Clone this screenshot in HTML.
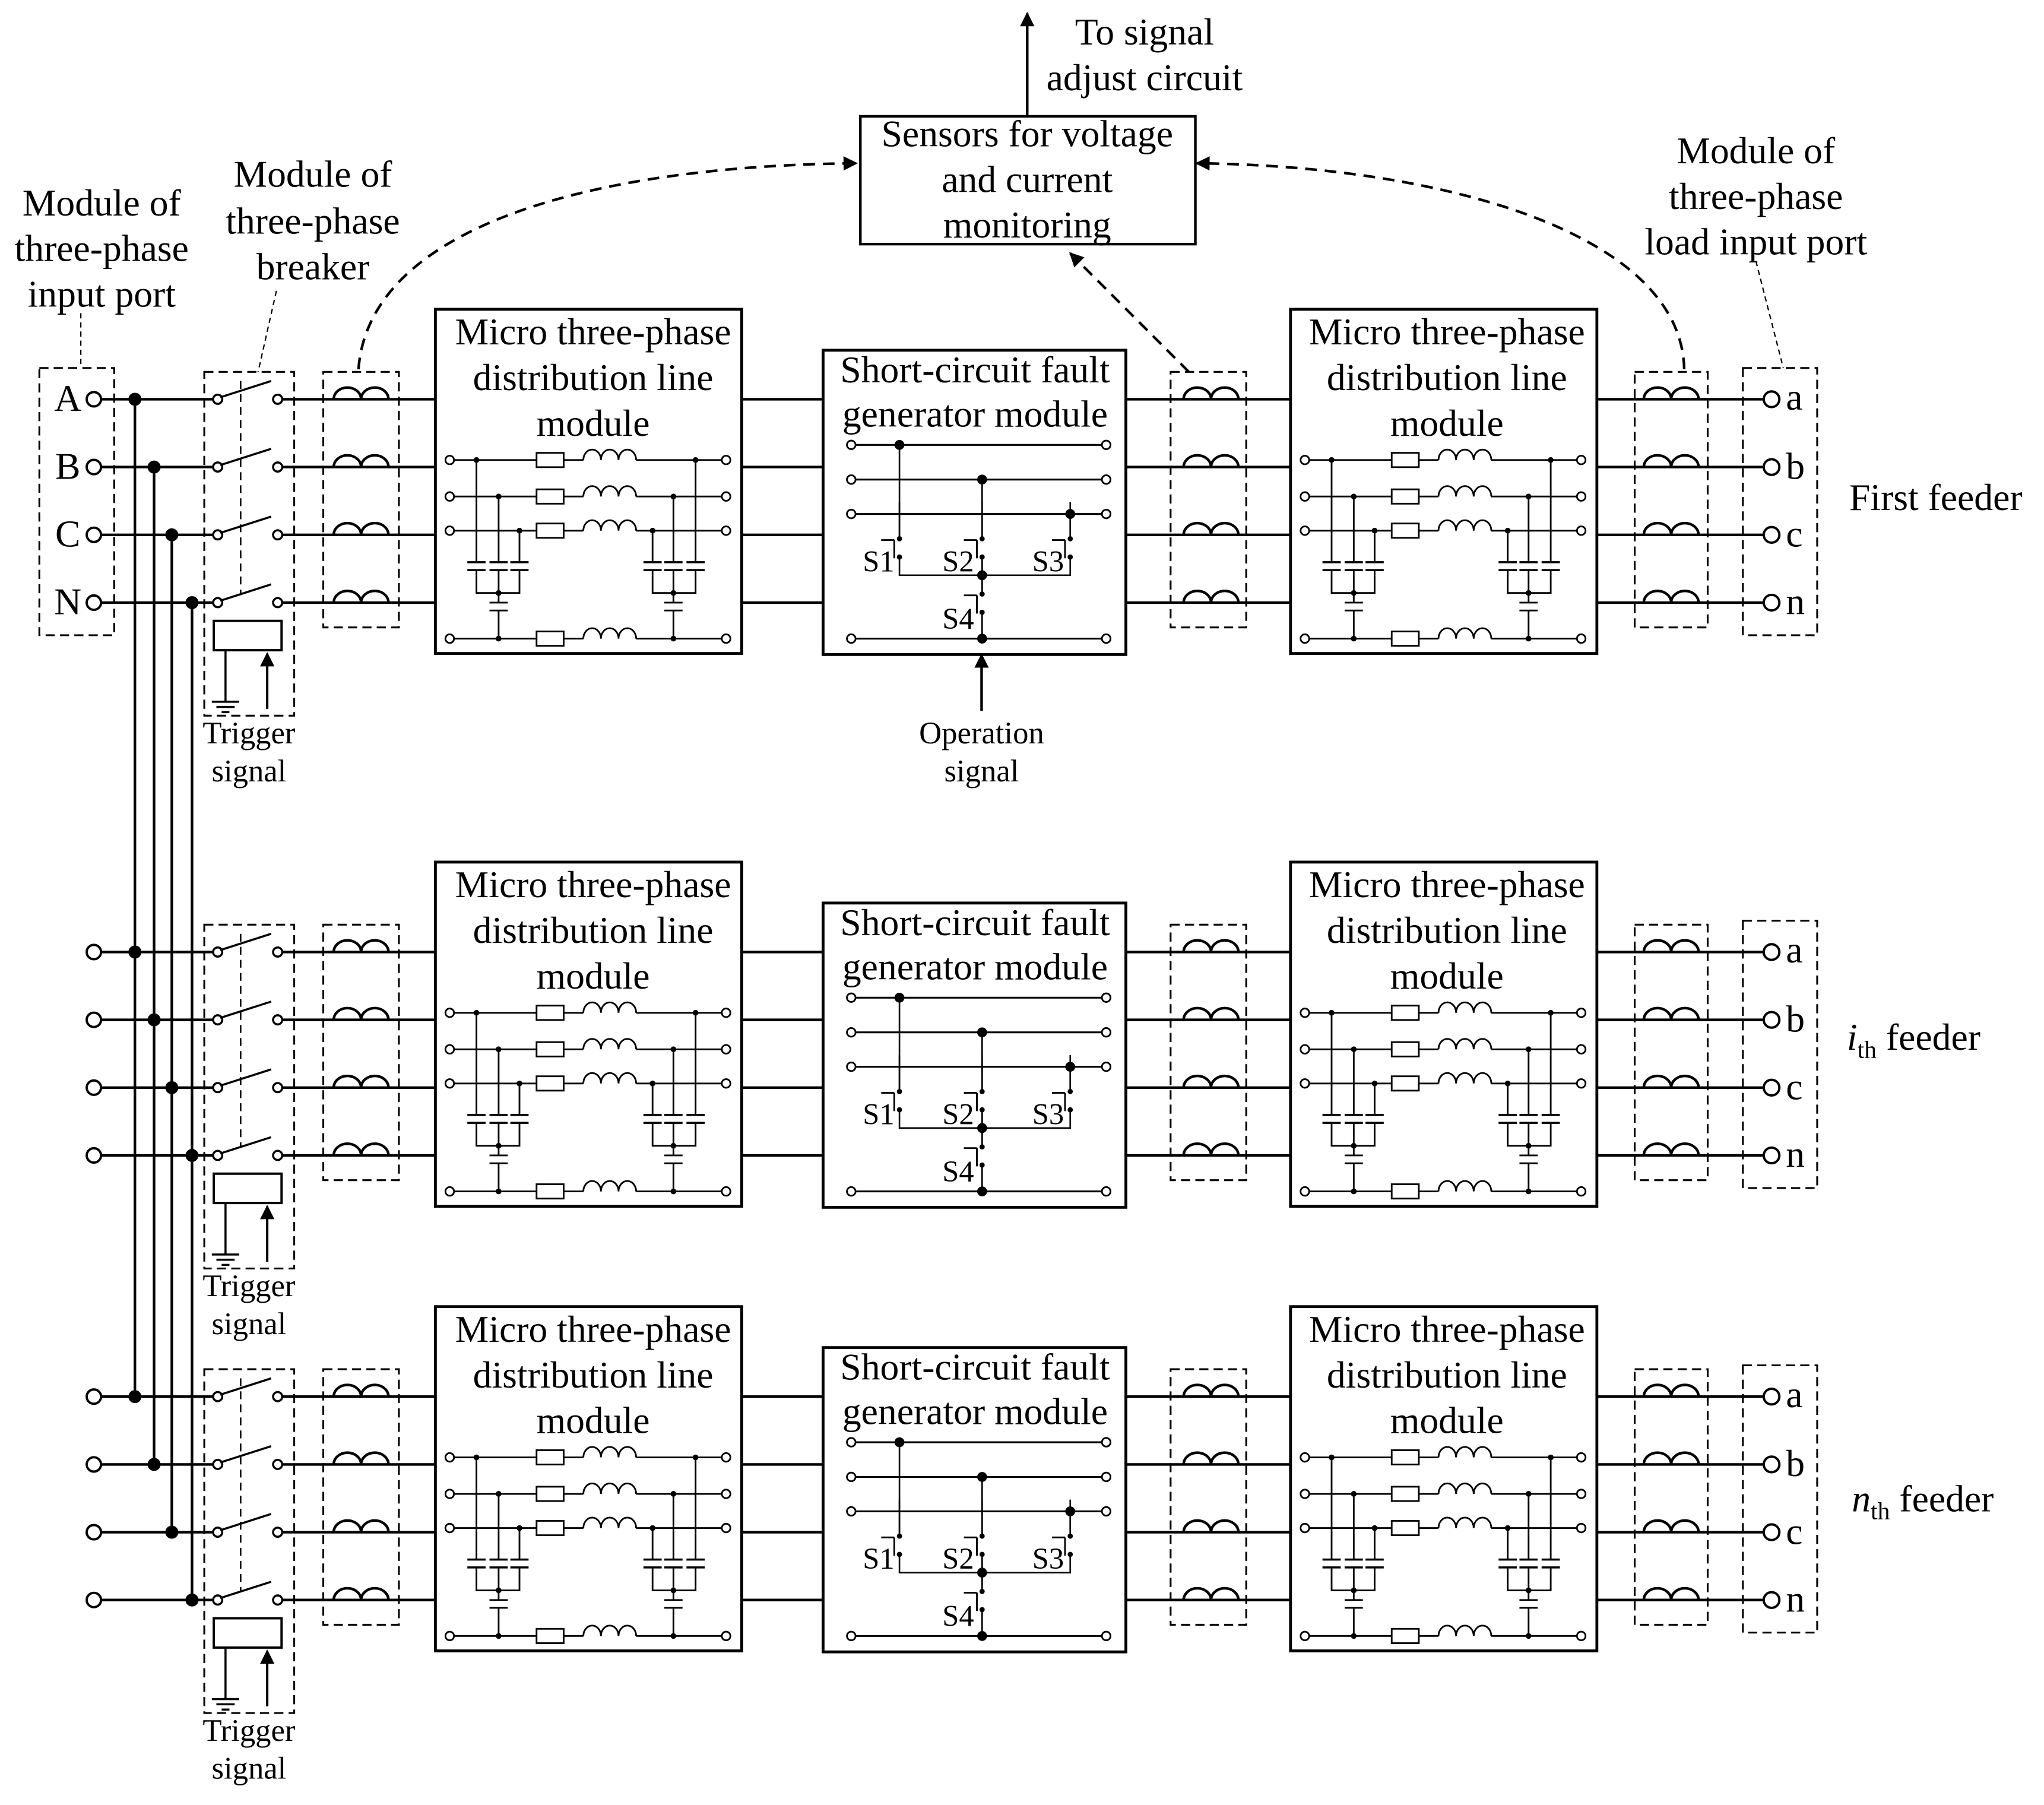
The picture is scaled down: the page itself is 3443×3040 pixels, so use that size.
<!DOCTYPE html>
<html><head><meta charset="utf-8"><style>html,body{margin:0;padding:0;background:#fff}svg{display:block}</style></head>
<body>
<svg width="3443" height="3040" viewBox="0 0 1568 1384" xmlns="http://www.w3.org/2000/svg" font-family="'Liberation Serif', serif" fill="none" stroke="#000">
<defs>
<marker id="ah" viewBox="0 0 10 10" refX="9" refY="5" markerWidth="14" markerHeight="11" markerUnits="userSpaceOnUse" orient="auto"><path d="M0,0 L10,5 L0,10 z" fill="#000" stroke="none"/></marker>
<g id="coil"><path d="M0,0 a10.5,9 0 0 1 21,0 a10.5,9 0 0 1 21,0" stroke-width="2"/></g>
<g id="ind"><path d="M0,0 a6.75,8 0 0 1 13.5,0 a6.75,8 0 0 1 13.5,0 a6.75,8 0 0 1 13.5,0" stroke-width="1.3"/></g>
<g id="mrow">
<line x1="348" y1="0" x2="411.6" y2="0" stroke-width="1.3"/>
<rect x="411.6" y="-5.5" width="20.8" height="11" stroke-width="1.3" fill="#fff"/>
<line x1="432.4" y1="0" x2="447.5" y2="0" stroke-width="1.3"/>
<use href="#ind" x="447.5" y="0"/>
<line x1="488" y1="0" x2="554" y2="0" stroke-width="1.3"/>
<circle cx="345" cy="0" r="3.3" stroke-width="1.3" fill="#fff"/>
<circle cx="557" cy="0" r="3.3" stroke-width="1.3" fill="#fff"/>
</g>
<g id="capset">
<path d="M0,352.6V431 M17,380.6V431 M33,406.8V431" stroke-width="1.3"/>
<path d="M-7,431h14 M-7,437h14 M10,431h14 M10,437h14 M26,431h14 M26,437h14" stroke-width="1.6"/>
<path d="M0,437V454.6H33V437 M17,437V454.6 M17,454.6V462 M10,462h14 M10,468h14 M17,468V489.6" stroke-width="1.3"/>
<g fill="#000" stroke="none"><circle cx="0" cy="352.6" r="2.2"/><circle cx="17" cy="380.6" r="2.2"/><circle cx="33" cy="406.8" r="2.2"/><circle cx="17" cy="454.6" r="2.2"/><circle cx="17" cy="489.6" r="2.2"/></g>
</g>
<g id="micro">
<rect x="334" y="237" width="235" height="264" stroke-width="2.2" fill="#fff"/>
<use href="#mrow" y="352.6"/><use href="#mrow" y="380.6"/><use href="#mrow" y="406.8"/><use href="#mrow" y="489.6"/>
<use href="#capset" x="365.5"/>
<g transform="translate(1033.6,0) scale(-1,1)"><use href="#capset" x="500"/></g>
</g>
<g id="sw">
<line x1="0" y1="-28" x2="0" y2="0" stroke-width="1.2"/>
<circle cx="0" cy="0" r="2" fill="#000" stroke="none"/>
<circle cx="0" cy="14" r="2" fill="#000" stroke="none"/>
<path d="M-4,1V15 M-14,1H-4" stroke-width="1.3"/>
</g>
<g id="fault">
<rect x="631.4" y="268.4" width="232.3" height="233.4" stroke-width="2.2" fill="#fff"/>
<path d="M656,341H845 M656,367.6H845 M656,394H845 M656,489.6H845" stroke-width="1.4"/>
<g fill="#fff" stroke-width="1.3"><circle cx="653" cy="341" r="3.3"/><circle cx="848.6" cy="341" r="3.3"/><circle cx="653" cy="367.6" r="3.3"/><circle cx="848.6" cy="367.6" r="3.3"/><circle cx="653" cy="394" r="3.3"/><circle cx="848.6" cy="394" r="3.3"/><circle cx="653" cy="489.6" r="3.3"/><circle cx="848.6" cy="489.6" r="3.3"/></g>
<path d="M690,341V413 M753.4,367.6V413 M821,394V413 M690,427V441H821V427 M753.4,427V455.4 M753.4,469.3V489.6" stroke-width="1.2"/>
<use href="#sw" x="690" y="413"/><use href="#sw" x="753.4" y="413"/><use href="#sw" x="821" y="413"/><use href="#sw" x="753.4" y="455.4"/>
<g fill="#000" stroke="none"><circle cx="690" cy="341" r="3.8"/><circle cx="753.4" cy="367.6" r="3.8"/><circle cx="821" cy="394" r="3.8"/><circle cx="753.4" cy="441" r="3.8"/><circle cx="753.4" cy="489.6" r="3.8"/></g>
</g>
<g id="phase">
<line x1="77" y1="0" x2="163.5" y2="0" stroke-width="2"/>
<circle cx="72" cy="0" r="5.5" stroke-width="1.8" fill="#fff"/>
<circle cx="167" cy="0" r="3.5" stroke-width="1.6" fill="#fff"/>
<line x1="169" y1="-1.5" x2="208" y2="-14" stroke-width="1.6"/>
<circle cx="213" cy="0" r="3.5" stroke-width="1.6" fill="#fff"/>
<line x1="216.5" y1="0" x2="334" y2="0" stroke-width="2"/>
<use href="#coil" x="256" y="0"/>
<line x1="569" y1="0" x2="631.4" y2="0" stroke-width="2"/>
<line x1="863.7" y1="0" x2="990" y2="0" stroke-width="2"/>
<use href="#coil" x="908" y="0"/>
<line x1="1224" y1="0" x2="1353" y2="0" stroke-width="2"/>
<use href="#coil" x="1261" y="0"/>
<circle cx="1359" cy="0" r="6" stroke-width="1.8" fill="#fff"/>
</g>
<g id="feeder">
<use href="#phase" y="306"/><use href="#phase" y="358"/><use href="#phase" y="410"/><use href="#phase" y="462"/>
<use href="#micro"/>
<use href="#micro" x="656"/>
<use href="#fault"/>
<g stroke-width="1.4" stroke-dasharray="7,4">
<rect x="156.7" y="285" width="69" height="263.7"/>
<line x1="184.6" y1="292" x2="184.6" y2="455" stroke-width="1.2" stroke-dasharray="6,4"/>
<rect x="248" y="285" width="58" height="196"/>
<rect x="898" y="285" width="58" height="196"/>
<rect x="1254" y="285" width="56" height="196"/>
<rect x="1337" y="282" width="57" height="205"/>
</g>
<rect x="164" y="476" width="52" height="22.5" stroke-width="1.8" fill="#fff"/>
<path d="M173,498.5V538 M162.5,538h21 M166,542h14 M170,546h6" stroke-width="1.6"/>
<line x1="205" y1="543.5" x2="205" y2="501" stroke-width="1.8" marker-end="url(#ah)"/>
</g>
</defs>

<g stroke-width="2">
<line x1="103.5" y1="306" x2="103.5" y2="1071"/>
<line x1="118.2" y1="358" x2="118.2" y2="1123"/>
<line x1="131.8" y1="410" x2="131.8" y2="1175"/>
<line x1="147.3" y1="462" x2="147.3" y2="1227"/>
</g>

<use href="#feeder"/>
<use href="#feeder" y="424"/>
<use href="#feeder" y="765"/>

<g fill="#000" stroke="none">
<circle cx="103.5" cy="306" r="5"/><circle cx="118.2" cy="358" r="5"/><circle cx="131.8" cy="410" r="5"/><circle cx="147.3" cy="462" r="5"/>
<circle cx="103.5" cy="730" r="5"/><circle cx="118.2" cy="782" r="5"/><circle cx="131.8" cy="834" r="5"/><circle cx="147.3" cy="886" r="5"/>
<circle cx="103.5" cy="1071" r="5"/><circle cx="118.2" cy="1123" r="5"/><circle cx="131.8" cy="1175" r="5"/><circle cx="147.3" cy="1227" r="5"/>
</g>

<rect x="30.2" y="282" width="57.4" height="205" stroke-width="1.4" stroke-dasharray="7,4"/>
<line x1="62" y1="240" x2="62" y2="282" stroke-width="1" stroke-dasharray="4,3"/>
<line x1="212" y1="223" x2="198" y2="285" stroke-width="1" stroke-dasharray="4,3"/>
<line x1="1347" y1="200" x2="1368" y2="282" stroke-width="1" stroke-dasharray="4,3"/>

<rect x="660" y="89" width="257" height="98" stroke-width="2" fill="#fff"/>
<line x1="788" y1="89" x2="788" y2="10" stroke-width="2" marker-end="url(#ah)"/>
<g stroke-width="2" stroke-dasharray="9,6">
<path d="M275,283 C283,175 450,127 657,125" marker-end="url(#ah)"/>
<path d="M1292,283 C1290,180 1110,127 918,125" marker-end="url(#ah)"/>
<path d="M912,285 L821,194" marker-end="url(#ah)"/>
</g>
<line x1="753" y1="545" x2="753" y2="502" stroke-width="2" marker-end="url(#ah)"/>

<g fill="#000" stroke="none" font-size="29" text-anchor="middle">
<text x="878" y="34">To signal</text>
<text x="878" y="69">adjust circuit</text>
<text x="788" y="112">Sensors for voltage</text>
<text x="788" y="147">and current</text>
<text x="788" y="182">monitoring</text>
<text x="78" y="165">Module of</text>
<text x="78" y="200">three-phase</text>
<text x="78" y="235">input port</text>
<text x="240" y="143">Module of</text>
<text x="240" y="179">three-phase</text>
<text x="240" y="214">breaker</text>
<text x="1347" y="125">Module of</text>
<text x="1347" y="160">three-phase</text>
<text x="1347" y="195">load input port</text>
<text x="52" y="315">A</text><text x="52" y="367">B</text><text x="52" y="419">C</text><text x="52" y="471">N</text>

<g>
<text x="455" y="264">Micro three-phase</text>
<text x="455" y="299">distribution line</text>
<text x="455" y="334">module</text>
<text x="1110" y="264">Micro three-phase</text>
<text x="1110" y="299">distribution line</text>
<text x="1110" y="334">module</text>
<text x="748" y="293">Short-circuit fault</text>
<text x="748" y="327">generator module</text>
<text x="1370" y="314" text-anchor="start">a</text>
<text x="1370" y="367" text-anchor="start">b</text>
<text x="1370" y="419" text-anchor="start">c</text>
<text x="1370" y="471" text-anchor="start">n</text>
<text x="191" y="570" font-size="24">Trigger</text>
<text x="191" y="599" font-size="24">signal</text>
<text x="674" y="438" font-size="23">S1</text>
<text x="735" y="438" font-size="23">S2</text>
<text x="804" y="438" font-size="23">S3</text>
<text x="735" y="482" font-size="23">S4</text>
</g>
<g transform="translate(0,424)">
<text x="455" y="264">Micro three-phase</text>
<text x="455" y="299">distribution line</text>
<text x="455" y="334">module</text>
<text x="1110" y="264">Micro three-phase</text>
<text x="1110" y="299">distribution line</text>
<text x="1110" y="334">module</text>
<text x="748" y="293">Short-circuit fault</text>
<text x="748" y="327">generator module</text>
<text x="1370" y="314" text-anchor="start">a</text>
<text x="1370" y="367" text-anchor="start">b</text>
<text x="1370" y="419" text-anchor="start">c</text>
<text x="1370" y="471" text-anchor="start">n</text>
<text x="191" y="570" font-size="24">Trigger</text>
<text x="191" y="599" font-size="24">signal</text>
<text x="674" y="438" font-size="23">S1</text>
<text x="735" y="438" font-size="23">S2</text>
<text x="804" y="438" font-size="23">S3</text>
<text x="735" y="482" font-size="23">S4</text>
</g>
<g transform="translate(0,765)">
<text x="455" y="264">Micro three-phase</text>
<text x="455" y="299">distribution line</text>
<text x="455" y="334">module</text>
<text x="1110" y="264">Micro three-phase</text>
<text x="1110" y="299">distribution line</text>
<text x="1110" y="334">module</text>
<text x="748" y="293">Short-circuit fault</text>
<text x="748" y="327">generator module</text>
<text x="1370" y="314" text-anchor="start">a</text>
<text x="1370" y="367" text-anchor="start">b</text>
<text x="1370" y="419" text-anchor="start">c</text>
<text x="1370" y="471" text-anchor="start">n</text>
<text x="191" y="570" font-size="24">Trigger</text>
<text x="191" y="599" font-size="24">signal</text>
<text x="674" y="438" font-size="23">S1</text>
<text x="735" y="438" font-size="23">S2</text>
<text x="804" y="438" font-size="23">S3</text>
<text x="735" y="482" font-size="23">S4</text>
</g>
<text x="753" y="570" font-size="24">Operation</text>
<text x="753" y="599" font-size="24">signal</text>
<text x="1485" y="391">First feeder</text>
<text x="1468" y="805"><tspan font-style="italic">i</tspan><tspan font-size="19" dy="6">th</tspan><tspan dy="-6"> feeder</tspan></text>
<text x="1475" y="1159"><tspan font-style="italic">n</tspan><tspan font-size="19" dy="6">th</tspan><tspan dy="-6"> feeder</tspan></text>
</g>
</svg>
</body></html>
